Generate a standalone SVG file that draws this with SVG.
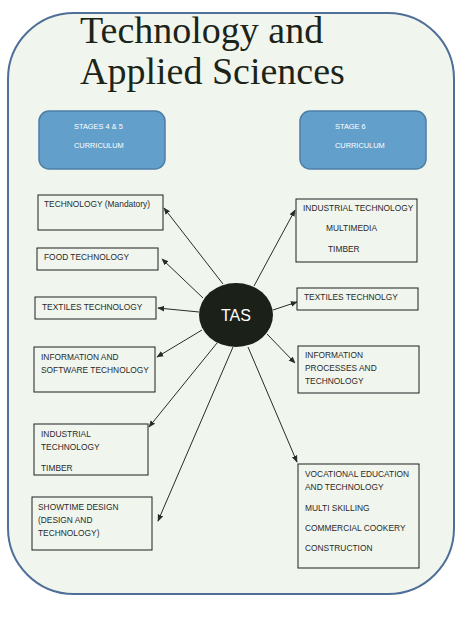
<svg xmlns="http://www.w3.org/2000/svg" width="476" height="619" viewBox="0 0 476 619">
<style>
.t{font-family:"Liberation Sans",Arial,sans-serif;font-size:8.4px;fill:#2a2a2a}
.w{font-family:"Liberation Sans",Arial,sans-serif;font-size:7.4px;fill:#ffffff}
.box{fill:#f0f6ee;stroke:#1e1e1e;stroke-width:1}
.stage{fill:#62a0cb;stroke:#4d7ea6;stroke-width:1.5}
.c{stroke:#2a2a2a;stroke-width:1;fill:none;marker-end:url(#ah)}
</style>
<defs>
<marker id="ah" viewBox="0 0 10 10" refX="9" refY="5" markerWidth="7" markerHeight="7" orient="auto" markerUnits="userSpaceOnUse">
<path d="M0,1 L10,5 L0,9 z" fill="#2a2a2a"/>
</marker>
</defs>
<rect width="476" height="619" fill="#ffffff"/>
<g id="frame">
<rect x="8" y="13" width="446" height="581" rx="66" ry="66" fill="#f0f6ee" stroke="#4f6f98" stroke-width="2"/>
<text x="80" y="43" font-family="'Liberation Serif','Times New Roman',serif" font-size="38" fill="#1c2419">Technology and</text>
<text x="80" y="84" font-family="'Liberation Serif','Times New Roman',serif" font-size="38" fill="#1c2419">Applied Sciences</text>
</g>
<g id="stage45">
<rect class="stage" x="39" y="111" width="126" height="58" rx="10"/>
<text class="w" x="74" y="129">STAGES 4 &amp; 5</text>
<text class="w" x="74" y="148">CURRICULUM</text>
</g>
<g id="stage6">
<rect class="stage" x="300" y="111" width="126" height="58" rx="10"/>
<text class="w" x="335" y="129">STAGE 6</text>
<text class="w" x="335" y="148">CURRICULUM</text>
</g>
<g id="connectors">
<line class="c" x1="223" y1="284" x2="164" y2="208"/>
<line class="c" x1="203" y1="298" x2="162" y2="259"/>
<line class="c" x1="199" y1="312" x2="158" y2="308"/>
<line class="c" x1="202" y1="330" x2="157" y2="357"/>
<line class="c" x1="217" y1="343" x2="149" y2="427"/>
<line class="c" x1="233" y1="347" x2="158" y2="521"/>
<line class="c" x1="254" y1="286" x2="295" y2="210"/>
<line class="c" x1="273" y1="310" x2="297" y2="302"/>
<line class="c" x1="267" y1="334" x2="295" y2="363"/>
<line class="c" x1="248" y1="347" x2="297" y2="462"/>
</g>
<g id="tas">
<ellipse cx="236" cy="315" rx="37" ry="32" fill="#1b2119"/>
<text x="236" y="321" text-anchor="middle" font-family="'Liberation Sans',Arial,sans-serif" font-size="16" fill="#ffffff">TAS</text>
</g>
<g id="l1">
<rect class="box" x="38" y="195" width="125" height="35"/>
<text class="t" x="44" y="207">TECHNOLOGY (Mandatory)</text>
</g>
<g id="l2">
<rect class="box" x="37" y="248" width="121" height="22"/>
<text class="t" x="44" y="260">FOOD TECHNOLOGY</text>
</g>
<g id="l3">
<rect class="box" x="35" y="297" width="121" height="22"/>
<text class="t" x="42" y="310">TEXTILES TECHNOLOGY</text>
</g>
<g id="l4">
<rect class="box" x="34" y="347" width="121" height="45"/>
<text class="t" x="41" y="360">INFORMATION AND</text>
<text class="t" x="41" y="373">SOFTWARE TECHNOLOGY</text>
</g>
<g id="l5">
<rect class="box" x="34" y="424" width="114" height="51"/>
<text class="t" x="41" y="437">INDUSTRIAL</text>
<text class="t" x="41" y="450">TECHNOLOGY</text>
<text class="t" x="41" y="471">TIMBER</text>
</g>
<g id="l6">
<rect class="box" x="32" y="497" width="120" height="53"/>
<text class="t" x="38" y="510">SHOWTIME DESIGN</text>
<text class="t" x="38" y="523">(DESIGN AND</text>
<text class="t" x="38" y="536">TECHNOLOGY)</text>
</g>
<g id="r1">
<rect class="box" x="296" y="199" width="121" height="63"/>
<text class="t" x="303" y="211">INDUSTRIAL TECHNOLOGY</text>
<text class="t" x="326" y="231">MULTIMEDIA</text>
<text class="t" x="328" y="252">TIMBER</text>
</g>
<g id="r2">
<rect class="box" x="297" y="288" width="121" height="22"/>
<text class="t" x="304" y="300">TEXTILES TECHNOLGY</text>
</g>
<g id="r3">
<rect class="box" x="298" y="346" width="121" height="47"/>
<text class="t" x="305" y="358">INFORMATION</text>
<text class="t" x="305" y="371">PROCESSES AND</text>
<text class="t" x="305" y="384">TECHNOLOGY</text>
</g>
<g id="r4">
<rect class="box" x="298" y="464" width="121" height="104"/>
<text class="t" x="305" y="477">VOCATIONAL EDUCATION</text>
<text class="t" x="305" y="490">AND TECHNOLOGY</text>
<text class="t" x="305" y="511">MULTI SKILLING</text>
<text class="t" x="305" y="531">COMMERCIAL COOKERY</text>
<text class="t" x="305" y="551">CONSTRUCTION</text>
</g>
</svg>
